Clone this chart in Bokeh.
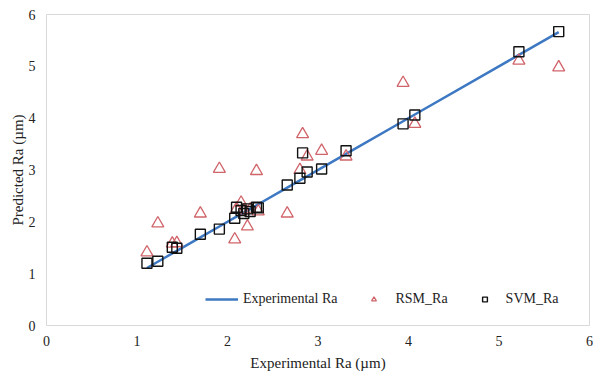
from bokeh.plotting import figure
from bokeh.models import Legend, LegendItem, ColumnDataSource, FixedTicker
from bokeh.embed import file_html
from bokeh.resources import INLINE

exp_ra = [1.11, 1.23, 1.39, 1.44, 1.70, 1.91, 2.08, 2.10, 2.15, 2.18, 2.22, 2.25,
          2.32, 2.34, 2.66, 2.80, 2.83, 2.88, 3.04, 3.31, 3.94, 4.07, 5.22, 5.66]
rsm_ra = [1.41, 1.97, 1.58, 1.59, 2.16, 3.02, 1.66, 2.25, 2.37, 2.22, 1.91, 2.24,
          2.98, 2.20, 2.16, 3.00, 3.69, 3.26, 3.37, 3.26, 4.68, 3.89, 5.11, 4.98]
svm_ra = [1.20, 1.24, 1.51, 1.49, 1.76, 1.86, 2.07, 2.28, 2.22, 2.16, 2.25, 2.20,
          2.28, 2.27, 2.71, 2.84, 3.33, 2.96, 3.02, 3.37, 3.89, 4.06, 5.28, 5.67]
ticks = [0, 1, 2, 3, 4, 5, 6]

FONT = "'Liberation Serif', 'Times New Roman', serif"

p = figure(width=593, height=376, output_backend="svg", toolbar_location=None,
           x_range=(0, 6), y_range=(0, 6),
           min_border_left=46, min_border_right=4, min_border_top=14, min_border_bottom=51)
p.outline_line_color = "#D9D9D9"
p.outline_line_width = 1
p.grid.visible = False

for ax in (p.xaxis[0], p.yaxis[0]):
    ax.ticker = FixedTicker(ticks=ticks)
    ax.axis_line_color = None
    ax.major_tick_line_color = None
    ax.minor_tick_line_color = None
    ax.major_tick_out = 0
    ax.major_tick_in = 0
    ax.major_label_text_font = FONT
    ax.major_label_text_font_size = "14px"
    ax.major_label_text_color = "#222222"
    ax.axis_label_text_font = FONT
    ax.axis_label_text_font_size = "15px"
    ax.axis_label_text_font_style = "normal"
    ax.axis_label_text_color = "#222222"

p.xaxis.axis_label = "Experimental Ra (µm)"
p.yaxis.axis_label = "Predicted Ra (µm)"
p.xaxis.major_label_standoff = 10
p.yaxis.major_label_standoff = 11
p.xaxis.axis_label_standoff = 6
p.yaxis.axis_label_standoff = 0

src = ColumnDataSource(dict(x=exp_ra, rsm=rsm_ra, svm=svm_ra))

r_line = p.line("x", "x", source=src, line_color="#3D78C2", line_width=2.5)
r_tri = p.scatter("x", "rsm", source=src, marker="triangle", size=12,
                  fill_color=None, line_color="#D0646A", line_width=1.3)
r_sq = p.scatter("x", "svm", source=src, marker="square", size=10,
                 fill_color=None, line_color="#111111", line_width=1.4)

legend = Legend(items=[LegendItem(label="Experimental Ra", renderers=[r_line]),
                       LegendItem(label="RSM_Ra", renderers=[r_tri]),
                       LegendItem(label="SVM_Ra", renderers=[r_sq])],
                orientation="horizontal", location=(159, 18),
                border_line_color=None, background_fill_alpha=0,
                padding=0, margin=0, spacing=20,
                glyph_width=33, glyph_height=12, label_standoff=5,
                label_text_font=FONT, label_text_font_size="14px",
                label_text_color="#222222")
p.add_layout(legend, "center")

open("out.html", "w").write(file_html(p, INLINE))
